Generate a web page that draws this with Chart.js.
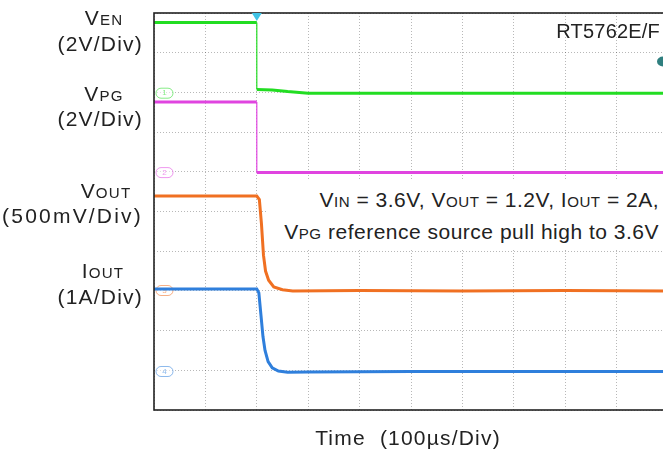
<!DOCTYPE html>
<html>
<head>
<meta charset="utf-8">
<script src="https://cdn.jsdelivr.net/npm/chart.js@4.4.1/dist/chart.umd.min.js"></script>
<style>
  html, body { margin:0; padding:0; background:#fff; width:663px; height:452px; overflow:hidden; }
  #wrap { position:absolute; left:0; top:0; width:680px; height:452px; }
  .t { position:absolute; font-family:"Liberation Sans", Arial, sans-serif; font-size:21px; color:#222; white-space:nowrap; line-height:1; }
  .lbl { letter-spacing:1.2px; }
  .ann { letter-spacing:0.5px; }
  .s { font-size:0.72em; }
  .c { transform:translateX(-50%); }
  .r { transform:translateX(-100%); }
  #box { position:absolute; left:267px; top:180px; width:396px; height:70px; background:#fff; }
</style>
</head>
<body>
<div id="wrap"><canvas id="c" width="680" height="452"></canvas></div>
<div id="box"></div>
<div class="t c lbl" style="left:104px; top:7px;">V<span class="s">EN</span></div>
<div class="t r lbl" style="left:143px; top:33px;">(2V/Div)</div>
<div class="t c lbl" style="left:104px; top:83px;">V<span class="s">PG</span></div>
<div class="t r lbl" style="left:143px; top:108px;">(2V/Div)</div>
<div class="t c lbl" style="left:106px; top:180px;">V<span class="s">OUT</span></div>
<div class="t r" style="left:143px; top:205px; letter-spacing:2.2px;">(500mV/Div)</div>
<div class="t c lbl" style="left:103px; top:260px;">I<span class="s">OUT</span></div>
<div class="t r lbl" style="left:143px; top:286px;">(1A/Div)</div>
<div class="t r" style="left:660px; top:21px; font-size:20px; letter-spacing:0.2px;">RT5762E/F</div>
<div class="t r ann" style="left:659px; top:189px;">V<span class="s">IN</span> = 3.6V, V<span class="s">OUT</span> = 1.2V, I<span class="s">OUT</span> = 2A,</div>
<div class="t r ann" style="left:659px; top:221px;">V<span class="s">PG</span> reference source pull high to 3.6V</div>
<div class="t c lbl" style="left:408px; top:427px;">Time&nbsp;&nbsp;(100µs/Div)</div>
<script>
// time axis in divisions (100us/div), vertical in screen divisions
const venTime  = [0, 2.0, 2.0, 2.3, 2.6, 3.0, 10];
const venLevel = [9.76, 9.76, 8.07, 8.06, 8.02, 7.98, 7.98];

const vpgTime  = [0, 2.0, 2.0, 10];
const vpgLevel = [7.76, 7.76, 5.98, 5.98];

const voutTime  = [0, 2.0, 2.05, 2.09, 2.13, 2.17, 2.23, 2.33, 2.5, 2.7, 4, 6, 8, 10];
const voutLevel = [5.39, 5.39, 5.3, 4.7, 3.9, 3.5, 3.27, 3.1, 3.03, 3.0, 3.01, 3.0, 3.01, 3.0];

const ioutTime  = [0, 2.0, 2.04, 2.08, 2.12, 2.16, 2.22, 2.3, 2.42, 2.6, 3.0, 5, 7, 10];
const ioutLevel = [3.05, 3.05, 2.95, 2.4, 1.85, 1.5, 1.22, 1.06, 0.98, 0.95, 0.96, 0.97, 0.97, 0.97];

const channelNames  = ['1', '2', '3', '4'];
const groundLevels  = [7.98, 5.98, 3.01, 0.97];
const channelColors = ['#22dd22', '#e044e0', '#f07022', '#2f7fdc'];
const triggerTime   = 2.0;
const triggerLevel  = 8.78;

function pts(xs, ys) { return xs.map((x, i) => ({ x: x, y: ys[i] })); }
function ds(xs, ys, color) {
  return {
    data: pts(xs, ys), borderColor: color, borderWidth: 3, pointRadius: 0, tension: 0,
    segment: { borderWidth: ctx => (ctx.p0.parsed.x === ctx.p1.parsed.x ? 1.2 : 3) }
  };
}

const decor = {
  id: 'decor',
  beforeDatasetsDraw(chart) {
    const { ctx, chartArea: a, scales: { x, y } } = chart;
    ctx.save();
    groundLevels.forEach((g, i) => {
      const py = y.getPixelForValue(g);
      const px = a.left + 2;
      ctx.globalAlpha = 0.55;
      ctx.strokeStyle = channelColors[i];
      ctx.fillStyle = '#ffffff';
      ctx.lineWidth = 1;
      ctx.beginPath();
      if (ctx.roundRect) ctx.roundRect(px, py - 5, 17, 10, 5); else ctx.rect(px, py - 5, 17, 10);
      ctx.fill(); ctx.stroke();
      ctx.fillStyle = channelColors[i];
      ctx.font = '8px "Liberation Sans", Arial';
      ctx.textAlign = 'center'; ctx.textBaseline = 'middle';
      ctx.fillText(channelNames[i], px + 8.5, py);
    });
    ctx.restore();
  },
  afterDatasetsDraw(chart) {
    const { ctx, chartArea: a, scales: { x, y } } = chart;
    ctx.save();
    ctx.strokeStyle = '#222';
    ctx.lineWidth = 1.6;
    ctx.strokeRect(a.left, a.top, a.right - a.left, a.bottom - a.top);
    const tx = x.getPixelForValue(triggerTime);
    ctx.fillStyle = '#3fc3e6';
    ctx.beginPath();
    ctx.moveTo(tx - 5, a.top); ctx.lineTo(tx + 5, a.top); ctx.lineTo(tx, a.top + 8); ctx.closePath();
    ctx.fill();
    const ly = y.getPixelForValue(triggerLevel);
    ctx.fillStyle = '#2f7f7f';
    ctx.beginPath();
    ctx.ellipse(663, ly, 6, 5, 0, 0, Math.PI * 2);
    ctx.fill();
    ctx.restore();
  }
};

new Chart(document.getElementById('c'), {
  type: 'line',
  data: {
    datasets: [
      ds(venTime, venLevel, channelColors[0]),
      ds(vpgTime, vpgLevel, channelColors[1]),
      ds(voutTime, voutLevel, channelColors[2]),
      ds(ioutTime, ioutLevel, channelColors[3])
    ]
  },
  options: {
    responsive: false,
    animation: false,
    layout: { padding: { left: 154, top: 13, right: 12, bottom: 42 } },
    plugins: { legend: { display: false }, tooltip: { enabled: false } },
    scales: {
      x: {
        type: 'linear', min: 0, max: 10,
        ticks: { display: false, stepSize: 1 },
        grid: { color: 'rgba(0,0,0,0.28)', lineWidth: 1, drawTicks: false },
        border: { display: false, dash: [1, 2] }
      },
      y: {
        type: 'linear', min: 0, max: 10,
        ticks: { display: false, stepSize: 1 },
        grid: { color: 'rgba(0,0,0,0.28)', lineWidth: 1, drawTicks: false },
        border: { display: false, dash: [1, 2] }
      }
    }
  },
  plugins: [decor]
});
</script>
</body>
</html>
